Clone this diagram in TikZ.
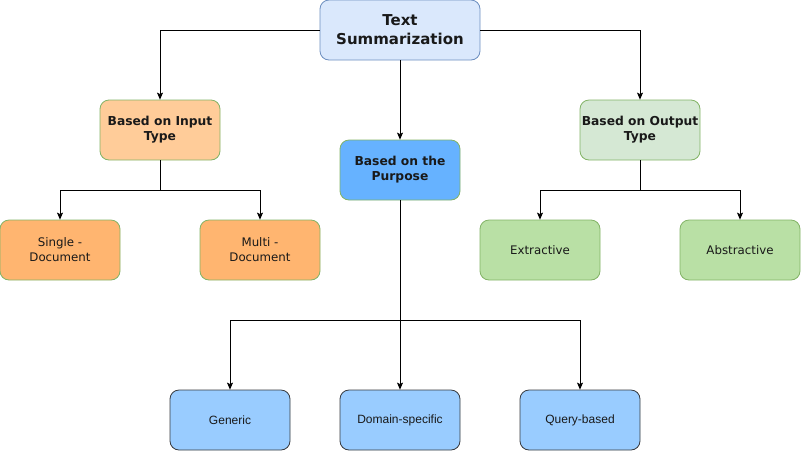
\documentclass[tikz,border=0pt]{standalone}
\usepackage{fontspec}
\setmainfont{DejaVu Sans}
\newfontfamily\arialfont{Liberation Sans}
\usetikzlibrary{arrows.meta}
\definecolor{titlefill}{HTML}{DAE8FC}
\definecolor{titledraw}{HTML}{6C8EBF}
\definecolor{inputfill}{HTML}{FFCC99}
\definecolor{docfill}{HTML}{FFB570}
\definecolor{purposefill}{HTML}{66B2FF}
\definecolor{outfill}{HTML}{D5E8D4}
\definecolor{extfill}{HTML}{B9E0A5}
\definecolor{greendraw}{HTML}{82B366}
\definecolor{leaffill}{HTML}{99CCFF}
\definecolor{leafdraw}{HTML}{36393D}
\tikzset{
  box/.style={draw=greendraw, line width=0.8pt, rounded corners=9pt, minimum width=120pt, minimum height=60pt, inner sep=1pt, align=center, font=\fontsize{11.8pt}{15pt}\selectfont, text=black!90},
  catbox/.style={box, font=\bfseries\fontsize{12.3pt}{15pt}\selectfont},
  leafbox/.style={box, draw=leafdraw, fill=leaffill, font=\arialfont\fontsize{12pt}{15pt}\selectfont},
  conn/.style={line width=0.8pt, -{Stealth[length=7pt,width=6pt,inset=1.5pt]}},
}
\begin{document}
\begin{tikzpicture}[x=1pt,y=-1pt]
\useasboundingbox (0,0) rectangle (801,451);
\node[box, draw=titledraw, fill=titlefill, minimum width=160pt, font=\bfseries\fontsize{15pt}{19pt}\selectfont] (root) at (400,30) {Text\\Summarization};
\node[catbox, fill=inputfill] (input) at (160,130) {Based on Input\\Type};
\node[catbox, fill=purposefill] (purpose) at (400,170) {Based on the\\Purpose};
\node[catbox, fill=outfill] (output) at (640,130) {Based on Output\\Type};
\node[box, fill=docfill] (single) at (60,250) {Single -\\Document};
\node[box, fill=docfill] (multi) at (260,250) {Multi -\\Document};
\node[box, fill=extfill] (ext) at (540,250) {Extractive};
\node[box, fill=extfill] (abs) at (740,250) {Abstractive};
\node[leafbox] (generic) at (230,420) {Generic};
\node[leafbox] (domain) at (400,420) {Domain-specific};
\node[leafbox] (query) at (580,420) {Query-based};
\draw[conn] (root.west) -| (input.north);
\draw[conn] (root.east) -| (output.north);
\draw[conn] (root.south) -- (purpose.north);
\draw[conn] (input.south) -- ++(0,30) -| (single.north);
\draw[conn] (input.south) -- ++(0,30) -| (multi.north);
\draw[conn] (output.south) -- ++(0,30) -| (ext.north);
\draw[conn] (output.south) -- ++(0,30) -| (abs.north);
\draw[conn] (purpose.south) -- (domain.north);
\draw[conn] (purpose.south) -- ++(0,120) -| (generic.north);
\draw[conn] (purpose.south) -- ++(0,120) -| (query.north);
\end{tikzpicture}
\end{document}
